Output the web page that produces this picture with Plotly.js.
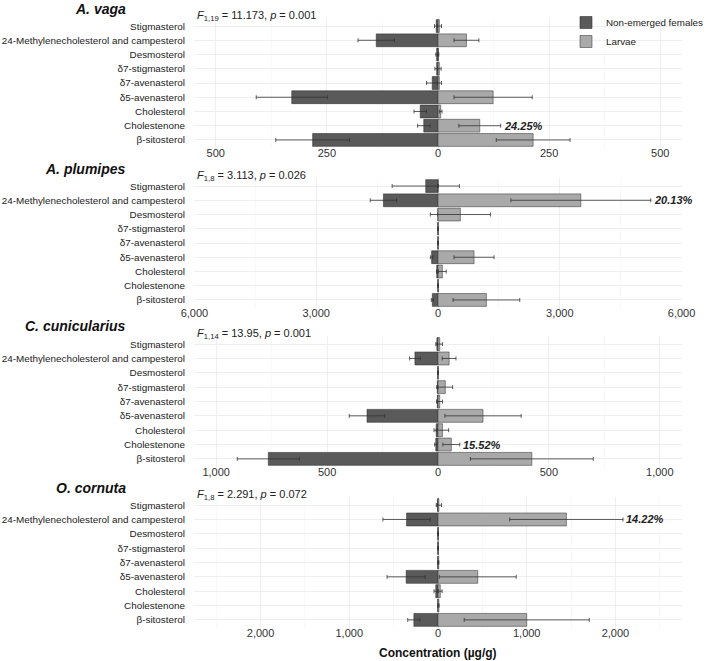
<!DOCTYPE html>
<html>
<head>
<meta charset="utf-8">
<script src="https://cdn.plot.ly/plotly-3.0.1.min.js"></script>
<style>html,body{margin:0;padding:0;background:#fff;}#chart{width:709px;height:661px;}</style>
</head>
<body>
<div id="chart"></div>
<script>
// ---------- DATA ----------
const categories = ["Stigmasterol", "24-Methylenecholesterol and campesterol", "Desmosterol",
  "δ7-stigmasterol", "δ7-avenasterol", "δ5-avenasterol", "Cholesterol", "Cholestenone", "β-sitosterol"];

const species = ["A. vaga", "A. plumipes", "C. cunicularius", "O. cornuta"];
const fStats = [
  "<i>F</i><sub>1,19</sub> = 11.173, <i>p</i> = 0.001",
  "<i>F</i><sub>1,8</sub> = 3.113, <i>p</i> = 0.026",
  "<i>F</i><sub>1,14</sub> = 13.95, <i>p</i> = 0.001",
  "<i>F</i><sub>1,8</sub> = 2.291, <i>p</i> = 0.072"
];

// Non-emerged females (µg/g) and error
const femVaga      = [4, 139, 3, 3, 13, 329, 40, 32, 282];
const femVagaErr   = [4, 41, 2, 4, 13, 80, 14, 14, 83];
const femPlum      = [302, 1344, 0, 2, 2, 157, 30, 2, 140];
const femPlumErr   = [828, 324, 0, 0, 0, 30, 0, 0, 25];
const femCuni      = [5, 104, 1, 3, 3, 320, 8, 10, 765];
const femCuniErr   = [5, 24, 0, 3, 3, 80, 10, 5, 140];
const femCorn      = [5, 354, 2, 2, 2, 359, 25, 2, 272];
const femCornErr   = [5, 267, 0, 0, 0, 215, 20, 0, 69];

// Larvae (µg/g) and error
const larVaga      = [3, 64, 1, 3, 3, 124, 6, 94, 214];
const larVagaErr   = [5, 28, 1, 4, 5, 88, 3, 47, 83];
const larPlum      = [0, 3518, 551, 5, 5, 888, 107, 5, 1192];
const larPlumErr   = [0, 1722, 740, 0, 0, 493, 95, 0, 822];
const larCuni      = [8, 50, 1, 33, 8, 203, 20, 60, 423];
const larCuniErr   = [12, 31, 0, 33, 12, 172, 28, 38, 277];
const larCorn      = [10, 1447, 5, 5, 8, 448, 26, 10, 1000];
const larCornErr   = [30, 638, 0, 0, 0, 433, 20, 0, 705];

// Percent labels
const pctLabels   = ["24.25%", "20.13%", "15.52%", "14.22%"];
const pctCategory = ["Cholestenone", "24-Methylenecholesterol and campesterol", "Cholestenone", "24-Methylenecholesterol and campesterol"];

// Axis ticks
const tickVals = [[-500, -250, 0, 250, 500], [-6000, -3000, 0, 3000, 6000], [-1000, -500, 0, 500, 1000], [-2000, -1000, 0, 1000, 2000]];
const tickText = [["500", "250", "0", "250", "500"], ["6,000", "3,000", "0", "3,000", "6,000"], ["1,000", "500", "0", "500", "1,000"], ["2,000", "1,000", "0", "1,000", "2,000"]];
const minorVals = [[-375, -125, 125, 375], [-4500, -1500, 1500, 4500], [-750, -250, 250, 750], [-2500, -1500, -500, 500, 1500, 2500]];
const halfRange = [549, 6010, 1100, 2750];

const femVals = [femVaga, femPlum, femCuni, femCorn];
const femErrs = [femVagaErr, femPlumErr, femCuniErr, femCornErr];
const larVals = [larVaga, larPlum, larCuni, larCorn];
const larErrs = [larVagaErr, larPlumErr, larCuniErr, larCornErr];

// ---------- LAYOUT HELPERS ----------
const W = 709, H = 661, PL = 194, PR = 682;
const panelPx = [[17.5, 148.5], [177.5, 308.5], [335.5, 467.5], [496.5, 628.5]];
const py = y => 1 - y / H;
const pxX = x => (x - PL) / (W - PL);

const FEM_COLOR = "#5a5a5a", LAR_COLOR = "#a9a9a9";
const textFont = "Liberation Sans, Arial, sans-serif";

const traces = [];
const layout = {
  width: W, height: H,
  margin: {l: PL, r: 0, t: 0, b: 0, autoexpand: false},
  paper_bgcolor: "#fff", plot_bgcolor: "#fff",
  barmode: "overlay",
  font: {family: textFont, size: 11, color: "#333"},
  showlegend: true,
  legend: {x: pxX(566), y: py(8), xanchor: "left", yanchor: "top", bgcolor: "rgba(0,0,0,0)",
    font: {size: 9.8, color: "#222"}, traceorder: "normal", tracegroupgap: 0},
  annotations: []
};

for (let i = 0; i < 4; i++) {
  const sfx = i === 0 ? "" : String(i + 1);
  const xa = "x" + sfx, ya = "y" + sfx;
  traces.push({
    type: "bar", orientation: "h", name: "Non-emerged females",
    y: categories, x: femVals[i].map(v => -v),
    error_x: {type: "data", array: femErrs[i], visible: true, color: "#333", thickness: 0.8, width: 2},
    marker: {color: FEM_COLOR, line: {color: "#333", width: 0.6}},
    width: 0.9, xaxis: xa, yaxis: ya, showlegend: i === 0, legendgroup: "f"
  });
  traces.push({
    type: "bar", orientation: "h", name: "Larvae",
    y: categories, x: larVals[i],
    error_x: {type: "data", array: larErrs[i], visible: true, color: "#333", thickness: 0.8, width: 2},
    marker: {color: LAR_COLOR, line: {color: "#444", width: 0.6}},
    width: 0.9, xaxis: xa, yaxis: ya, showlegend: i === 0, legendgroup: "l"
  });
  const [top, bot] = panelPx[i];
  layout["xaxis" + sfx] = {
    domain: [0, (PR - PL) / (W - PL)], anchor: ya, range: [-halfRange[i], halfRange[i]],
    tickmode: "array", tickvals: tickVals[i], ticktext: tickText[i],
    showgrid: true, gridcolor: "#ebebeb", gridwidth: 0.8, zeroline: false,
    minor: {tickmode: "array", tickvals: minorVals[i], showgrid: true, gridcolor: "#f3f3f3", gridwidth: 0.6, ticks: ""},
    showline: false, ticks: "", tickfont: {size: 11, color: "#333"}, ticklabelstandoff: -4,
    automargin: false, fixedrange: true
  };
  layout["yaxis" + sfx] = {
    domain: [py(bot), py(top)], anchor: xa,
    type: "category", categoryorder: "array", categoryarray: categories,
    range: [categories.length - 0.4, -0.6],
    showgrid: true, gridcolor: "#ebebeb", gridwidth: 0.8, zeroline: false,
    showline: false, ticks: "", tickfont: {size: 9.9, color: "#222"}, ticklabelstandoff: 8,
    automargin: false, fixedrange: true
  };
  const stigY = top + 8.5;
  layout.annotations.push({
    xref: "paper", yref: "paper", x: pxX(128), y: py(stigY - 17.5), xanchor: "right", yanchor: "middle",
    text: "<b><i>" + species[i] + "</i></b>", showarrow: false, font: {size: 14, color: "#111"}
  });
  layout.annotations.push({
    xref: "paper", yref: "paper", x: pxX(195), y: py(stigY - 10), xanchor: "left", yanchor: "middle",
    text: fStats[i], showarrow: false, font: {size: 11, color: "#222"}
  });
  const k = categories.indexOf(pctCategory[i]);
  layout.annotations.push({
    xref: xa, yref: ya, x: larVals[i][k] + larErrs[i][k], y: pctCategory[i],
    xanchor: "left", yanchor: "middle", xshift: 1,
    text: "<b><i>" + pctLabels[i] + "</i></b>", showarrow: false, font: {size: 11, color: "#222"}
  });
}
layout.annotations.push({
  xref: "paper", yref: "paper", x: pxX(438), y: py(653), xanchor: "center", yanchor: "middle",
  text: "<b>Concentration (µg/g)</b>", showarrow: false, font: {size: 12, color: "#111"}
});

Plotly.newPlot("chart", traces, layout, {displayModeBar: false, staticPlot: true});
</script>
</body>
</html>
